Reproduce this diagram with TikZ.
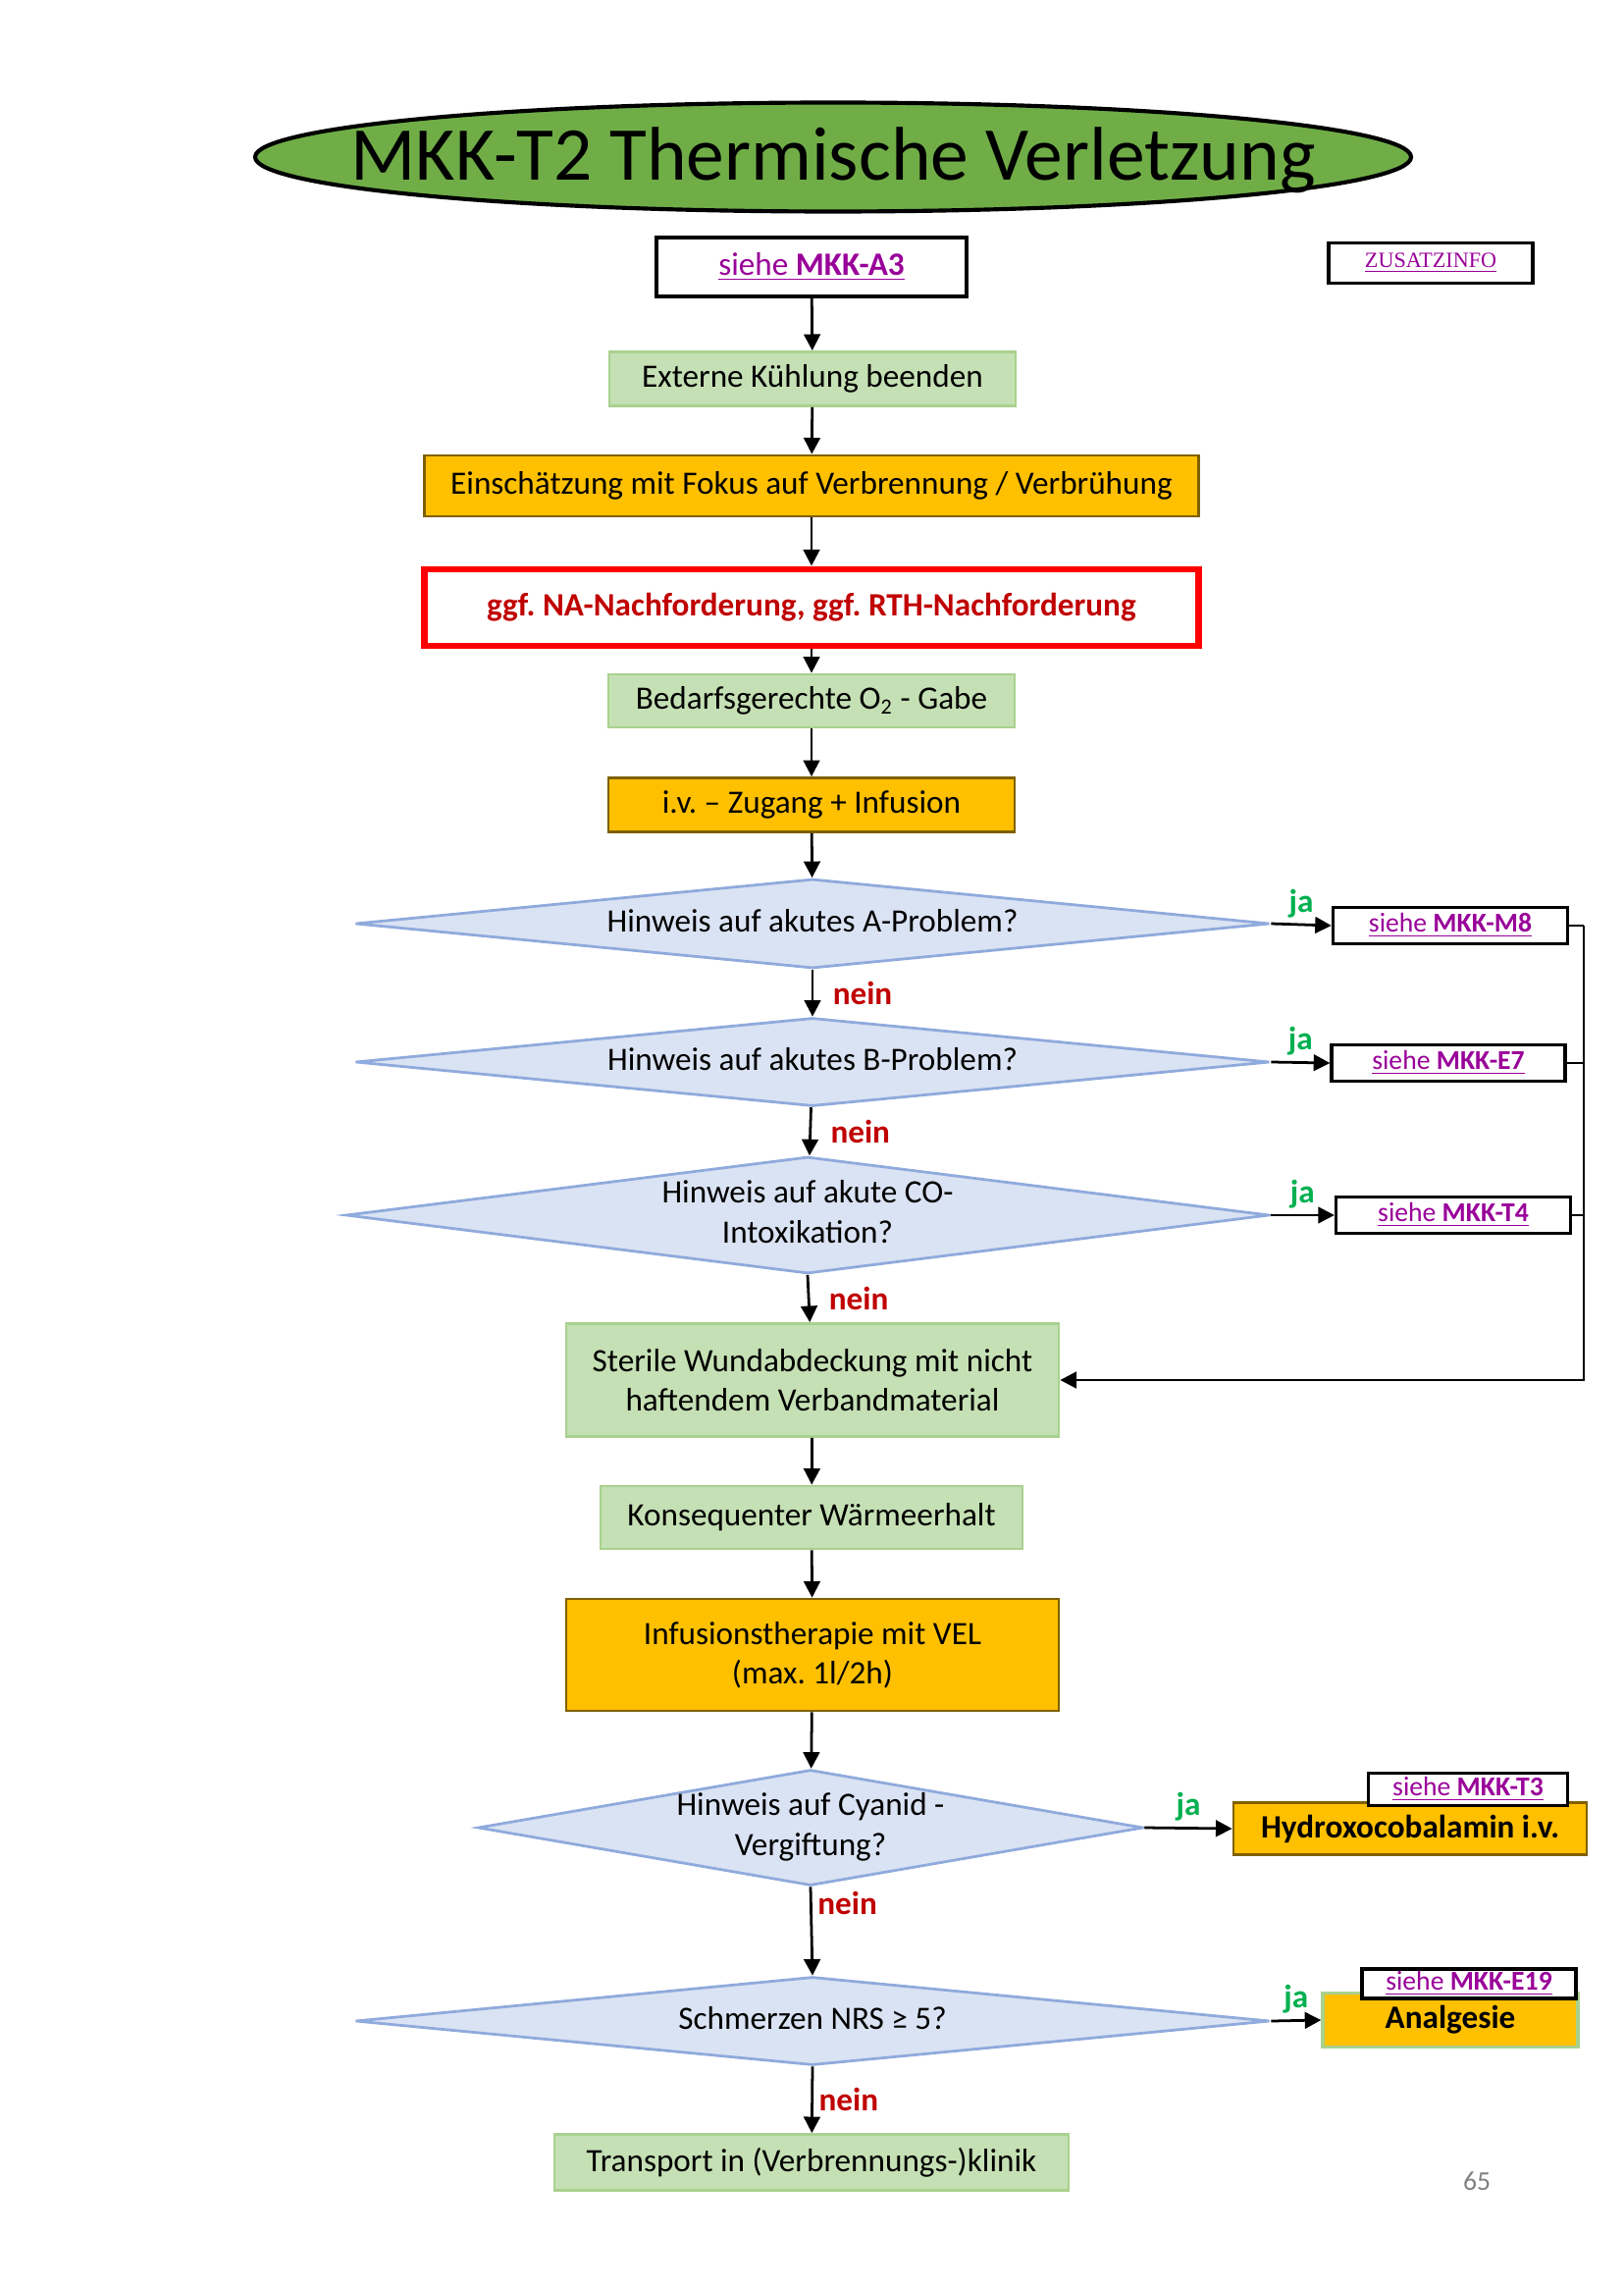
\documentclass[tikz,border=0pt]{standalone}
\usepackage{fontspec}
\setmainfont{Carlito}
\newfontfamily\timesfont{Liberation Serif}
\usetikzlibrary{positioning}
\usetikzlibrary{shapes.geometric}
\usetikzlibrary{arrows.meta}
\frenchspacing

\definecolor{titlegreen}{HTML}{70AD47}
\definecolor{boxgreen}{HTML}{C5E0B4}
\definecolor{boxgreenline}{HTML}{A9D18E}
\definecolor{boxorange}{HTML}{FFC000}
\definecolor{boxorangeline}{HTML}{7F6000}
\definecolor{diafill}{HTML}{DAE3F3}
\definecolor{dialine}{HTML}{8FAADC}
\definecolor{linkpurple}{HTML}{990099}
\definecolor{jagreen}{HTML}{00B050}
\definecolor{neinred}{HTML}{C00000}

\newcommand{\link}[1]{\textcolor{linkpurple}{\underline{siehe \textbf{#1}}}}
\newcommand{\dtext}[1]{\makebox[0pt]{\begin{tabular}{@{}c@{}}#1\end{tabular}}}

\tikzset{
	sz/.style 2 args={minimum width=#1*0.127mm, minimum height=#2*0.127mm},
	txt/.style={font=\fontsize{12}{14.5}\selectfont},
	greenbox/.style={txt, draw=boxgreenline, fill=boxgreen, line width=1pt, align=center, inner sep=0pt},
	orangebox/.style={txt, draw=boxorangeline, fill=boxorange, line width=1pt, align=center, inner sep=0pt},
	linkbox/.style={draw=black, fill=white, line width=1.2pt, inner sep=0pt, font=\fontsize{10}{12}\selectfont},
	dia/.style={txt, diamond, draw=dialine, fill=diafill, line width=1pt, inner sep=0pt},
	arr/.style={-{Triangle[length=6pt,width=6pt]}, line width=1pt},
	ja/.style={text=jagreen, font=\fontsize{12}{14}\selectfont\bfseries, inner sep=2pt},
	nein/.style={text=neinred, font=\fontsize{12}{14}\selectfont\bfseries, inner sep=2pt, xshift=5pt},
}

\begin{document}
\begin{tikzpicture}[x=0.127mm, y=-0.127mm]
				\useasboundingbox (0,0) rectangle (1654,2331);

				%Title
				\node[ellipse, draw=black, fill=titlegreen, line width=1.5pt, sz={1178}{111}, inner sep=0pt,
					font=\fontsize{28}{32}\selectfont] (title) at (849,160)
					{\makebox[0pt]{\raisebox{-0.3em}[0pt][0pt]{MKK-T2 Thermische Verletzung}}};
				\node[linkbox, sz={208}{41}, font=\fontsize{8}{10}\timesfont] (zusatz) at (1458,268)
					{\textcolor{linkpurple}{\underline{ZUSATZINFO}}};

				%Nodes
				\node[linkbox, sz={316}{60}, font=\fontsize{12}{14}\selectfont] (a3) at (827,272) {\link{MKK-A3}};
				\node[greenbox, sz={414}{55}] (extern) at (828,386) {Externe Kühlung beenden};
				\node[orangebox, sz={789}{62}] (einsch) at (827,495) {Einschätzung mit Fokus auf Verbrennung / Verbrühung};
				\node[draw=red, line width=2.5pt, sz={789}{78}, text=neinred, font=\fontsize{12}{14}\selectfont\bfseries] (nachf) at (827,619)
					{ggf. NA-Nachforderung, ggf. RTH-Nachforderung};
				\node[greenbox, sz={414}{54}] (bedarf) at (827,714) {Bedarfsgerechte O\textsubscript{2} - Gabe};
				\node[orangebox, sz={414}{55}] (iv) at (827,820) {i.v. – Zugang + Infusion};

				\node[dia, sz={932}{91}] (diaA) at (828,941) {\dtext{Hinweis auf akutes A-Problem?}};
				\node[dia, sz={932}{90}] (diaB) at (828,1082) {\dtext{Hinweis auf akutes B-Problem?}};
				\node[dia, sz={941}{119}] (diaC) at (823,1238) {\dtext{Hinweis auf akute CO-\\Intoxikation?}};

				\node[linkbox, sz={239}{37}] (m8) at (1478,943) {\link{MKK-M8}};
				\node[linkbox, sz={238}{37}] (e7) at (1476,1083) {\link{MKK-E7}};
				\node[linkbox, sz={239}{37}] (t4) at (1481,1238) {\link{MKK-T4}};

				\node[greenbox, sz={502}{115}] (sterile) at (828,1406) {Sterile Wundabdeckung mit nicht\\haftendem Verbandmaterial};
				\node[greenbox, sz={430}{64}] (konseq) at (827,1546) {Konsequenter Wärmeerhalt};
				\node[orangebox, sz={502}{114}] (infus) at (828,1686) {Infusionstherapie mit VEL\\(max. 1l/2h)};

				\node[dia, sz={678}{118}] (diaCy) at (826,1862) {\dtext{Hinweis auf Cyanid -\\Vergiftung?}};
				\node[orangebox, sz={360}{53}, font=\fontsize{12}{14}\selectfont\bfseries] (hydro) at (1437,1863) {Hydroxocobalamin i.v.};
				\node[linkbox, sz={203}{33}] (t3) at (1496,1823) {\link{MKK-T3}};

				\node[dia, sz={932}{90}] (diaS) at (828,2059) {\dtext{Schmerzen NRS ≥ 5?}};
				\node[draw=boxgreenline, fill=boxorange, line width=1.2pt, sz={260}{55}, font=\fontsize{12}{14}\selectfont\bfseries] (analg) at (1478,2058)
					{\raisebox{-4pt}{Analgesie}};
				\node[linkbox, sz={218}{30}] (e19) at (1497,2021) {\link{MKK-E19}};

				\node[greenbox, sz={524}{57}] (transp) at (827,2203) {Transport in (Verbrennungs-)klinik};

				\node[text=black!50, font=\fontsize{10}{12}\selectfont] (page) at (1505,2222) {65};

				\coordinate (railtop) at (1614,943);
				\coordinate (railbot) at (1614,1406);

				%Lines
				\draw[arr] (a3) -- (extern);
				\draw[arr] (extern) -- (einsch);
				\draw[arr] (einsch) -- (nachf);
				\draw[arr] (nachf) -- (bedarf);
				\draw[arr] (bedarf) -- (iv);
				\draw[arr] (iv) -- (diaA);
				\draw[arr] (diaA) -- node[nein, right] {nein} (diaB);
				\draw[arr] (diaB) -- node[nein, right] {nein} (diaC);
				\draw[arr] (diaC.south) -- node[nein, right] {nein} (sterile);

				\draw[arr] (diaA.east) -- node[ja, above] {ja} (m8.west);
				\draw[arr] (diaB.east) -- node[ja, above] {ja} (e7.west);
				\draw[arr] (diaC.east) -- node[ja, above] {ja} (t4.west);
				\draw[line width=1pt] (m8.east) -- (railtop);
				\draw[line width=1pt] (e7.east) -- (e7.east -| railtop);
				\draw[line width=1pt] (t4.east) -- (t4.east -| railtop);
				\draw[arr] (railtop) -- (railbot) -- (sterile.east);

				\draw[arr] (sterile) -- (konseq);
				\draw[arr] (konseq) -- (infus);
				\draw[arr] (infus) -- (diaCy);
				\draw[arr] (diaCy.east) -- node[ja, above] {ja} (hydro.west);
				\draw[arr] (diaCy.south) -- node[nein, pos=0.18, right, inner sep=1pt, xshift=-4pt] {nein} (diaS.north);
				\draw[arr] (diaS.east) -- node[ja, above] {ja} (analg.west);
				\draw[arr] (diaS.south) -- node[nein, right, inner sep=1pt, xshift=-4pt] {nein} (transp);

			\end{tikzpicture}
\end{document}
